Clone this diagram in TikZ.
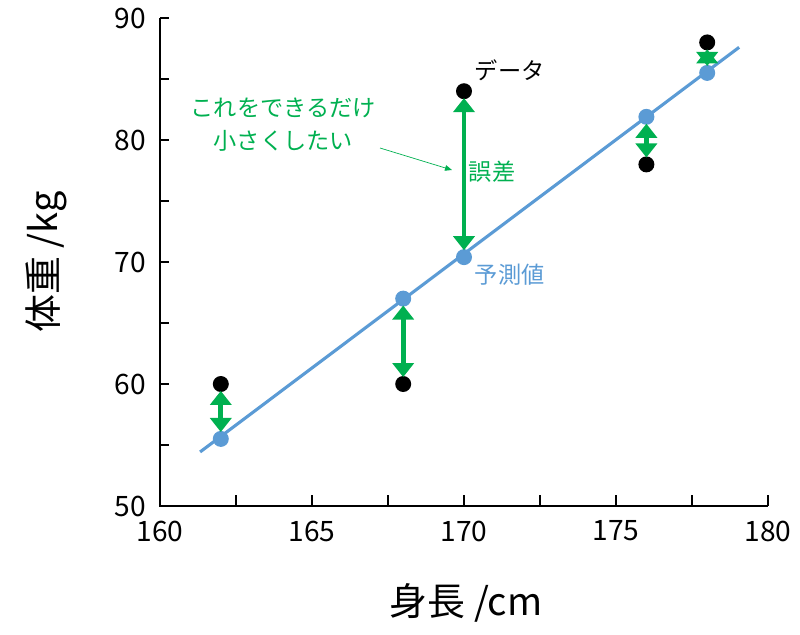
\documentclass[tikz,border=0pt]{standalone}
\usepackage{fontspec}
\setmainfont{Noto Sans CJK JP}
\usetikzlibrary{arrows.meta}
\definecolor{errgreen}{HTML}{00B050}
\definecolor{predblue}{HTML}{5B9BD5}
\tikzset{
  datadot/.style={circle,fill=black,inner sep=0pt,minimum size=0.4cm},
  preddot/.style={circle,fill=predblue,inner sep=0pt,minimum size=0.4cm},
  errarrow/.style={errgreen,line width=3.5pt,{Triangle[length=10pt,width=15pt]}-{Triangle[length=10pt,width=15pt]},shorten <=-1pt,shorten >=-1pt},
  ticklabel/.style={font=\fontsize{20}{20}\selectfont}
}
\begin{document}
\begin{tikzpicture}
\useasboundingbox (0,0) rectangle (20,-15.875);
% data frame, x=0.76cm per cm-unit, y=0.305cm per kg
\begin{scope}[shift={(4,-12.65)},x=0.76cm,y=0.305cm]
\draw[line width=0.9pt] (0,40) -- (0,0) -- (20,0);
\foreach \v in {2.5,5,...,20} \draw[line width=0.9pt] (\v,0) -- ++(0,0.9);
\foreach \w in {5,10,...,40} \draw[line width=0.9pt] (0,\w) -- ++(0.3,0);
\foreach \v/\t in {0/160,5/165,10/170,15/175,20/180}
  \node[ticklabel,anchor=north] at (\v,-0.8) {\t};
\foreach \w/\t in {0/50,10/60,20/70,30/80,40/90}
  \node[ticklabel,anchor=east] at (-0.3,\w) {\t};

% regression line
\draw[predblue,line width=2.2pt] (1.32,4.43) -- (19.05,37.6);

% points
\node[datadot] (d1) at (2,10) {};
\node[datadot] (d2) at (8,10) {};
\node[datadot] (d3) at (10,34) {};
\node[datadot] (d4) at (16,28) {};
\node[datadot] (d5) at (18,38) {};
\node[preddot] (p1) at (2,5.5) {};
\node[preddot] (p2) at (8,17) {};
\node[preddot] (p3) at (10,20.4) {};
\node[preddot] (p4) at (16,31.9) {};
\node[preddot] (p5) at (18,35.5) {};

\foreach \i in {1,...,5} \draw[errarrow] (d\i) -- (p\i);
\end{scope}

% labels
\node[anchor=west,font=\fontsize{16.5}{16.5}\selectfont] (datalbl) at (11.75,-1.75) {データ};
\node[anchor=west,errgreen,font=\fontsize{16.5}{16.5}\selectfont] (errlbl) at (11.6,-4.3) {誤差};
\node[anchor=west,predblue,font=\fontsize{16.5}{16.5}\selectfont] (predlbl) at (11.75,-6.88) {予測値};
\node[errgreen,align=center,font=\fontsize{16.5}{24}\selectfont] (wish) at (7.08,-3.12) {これをできるだけ\\小さくしたい};
\coordinate (wishtip) at (11.3,-4.25);
\draw[errgreen,line width=0.5pt,-{Triangle[length=5pt,width=4pt]}] (9.5,-3.7) -- (wishtip);

% axis titles
\node[font=\fontsize{27}{27}\selectfont] (xtitle) at (11.65,-15.08) {身長 /cm};
\node[font=\fontsize{27}{27}\selectfont,rotate=90] (ytitle) at (1.15,-6.55) {体重 /kg};
\end{tikzpicture}
\end{document}
